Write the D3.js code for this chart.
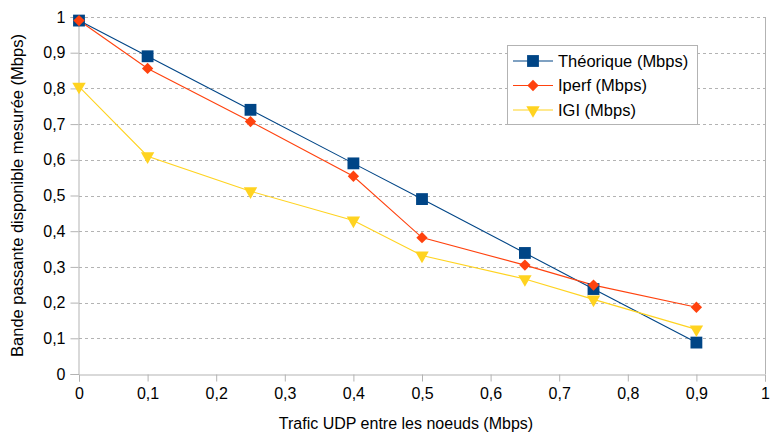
<!DOCTYPE html>
<html><head><meta charset="utf-8">
<script src="https://cdn.jsdelivr.net/npm/d3@7"></script>
<style>body{margin:0;background:#fff;} text{font-family:"Liberation Sans",Arial,sans-serif;}</style>
</head><body><svg id="c" width="770" height="432"></svg>
<script>
const xValues = [0, 0.1, 0.25, 0.4, 0.5, 0.65, 0.75, 0.9];
const theorique = [0.99, 0.89, 0.74, 0.59, 0.49, 0.339, 0.238, 0.088];
const iperf = [0.99, 0.856, 0.707, 0.554, 0.382, 0.305, 0.249, 0.187];
const igi = [0.805, 0.61, 0.512, 0.43, 0.332, 0.266, 0.209, 0.125];
const seriesNames = ["Théorique (Mbps)", "Iperf (Mbps)", "IGI (Mbps)"];
const tickValues = [0,0.1,0.2,0.3,0.4,0.5,0.6,0.7,0.8,0.9,1];
const xTitle = "Trafic UDP entre les noeuds (Mbps)";
const yTitle = "Bande passante disponible mesurée (Mbps)";

const colors = ["#004586", "#ff420e", "#ffd320"];
const data = [theorique, iperf, igi];
const markerFns = [
  () => d3.symbol().type(d3.symbolSquare).size(140)(),
  () => d3.symbol().type(d3.symbolSquare).size(64)(),
  () => d3.symbol().type(d3.symbolTriangle).size(78)()
];
const markerRot = [0, 45, 180];

const svg = d3.select("#c");
const L = 79, R = 765, T = 17, B = 374;
const x = d3.scaleLinear().domain([0,1]).range([L,R]);
const y = d3.scaleLinear().domain([0,1]).range([B,T]);
const fmt = d => String(+d.toFixed(1)).replace(".", ",");

// gridlines
svg.append("g").selectAll("line").data(tickValues.filter(d=>d>0)).join("line")
  .attr("x1", L).attr("x2", R).attr("y1", d=>Math.round(y(d))+0.5).attr("y2", d=>Math.round(y(d))+0.5)
  .attr("stroke", "#b3b3b3").attr("stroke-dasharray", "3,3").attr("stroke-width", 1);

// right border
svg.append("line").attr("x1", R+0.5).attr("x2", R+0.5).attr("y1", T).attr("y2", B)
  .attr("stroke", "#b3b3b3");

const xAxis = svg.append("g").attr("transform", `translate(0,${B+0.5})`)
  .call(d3.axisBottom(x).tickValues(tickValues).tickFormat(fmt).tickSize(7).tickPadding(6));
const yAxis = svg.append("g").attr("transform", `translate(${L-0.5},0)`)
  .call(d3.axisLeft(y).tickValues(tickValues).tickFormat(fmt).tickSize(8).tickPadding(5));
[xAxis, yAxis].forEach(a => {
  a.select(".domain").attr("stroke", "#b3b3b3");
  a.selectAll(".tick line").attr("stroke", "#b3b3b3");
  a.selectAll(".tick text").attr("font-size", 16).attr("fill", "#000")
   .style("font-family", "Liberation Sans, Arial, sans-serif");
});

// lines and markers
const line = d3.line().x((d,i)=>x(xValues[i])).y(d=>y(d));
data.forEach((s, k) => {
  svg.append("path").datum(s).attr("d", line).attr("fill", "none")
    .attr("stroke", colors[k]).attr("stroke-width", 1.1);
});
data.forEach((s, k) => {
  svg.append("g").selectAll("path").data(s).join("path")
    .attr("d", markerFns[k]())
    .attr("transform", (d,i) => `translate(${x(xValues[i])},${y(d)}) rotate(${markerRot[k]})`)
    .attr("fill", colors[k]);
});

// legend
const lg = svg.append("g").attr("transform", "translate(507,45)");
lg.append("rect").attr("x", 0.5).attr("y", 0.5).attr("width", 190).attr("height", 79)
  .attr("fill", "#fff").attr("stroke", "#b3b3b3");
seriesNames.forEach((n, k) => {
  const yy = 16 + k * 24.5;
  lg.append("line").attr("x1", 6).attr("x2", 46).attr("y1", yy).attr("y2", yy)
    .attr("stroke", colors[k]).attr("stroke-width", 1.1);
  lg.append("path").attr("d", markerFns[k]())
    .attr("transform", `translate(26,${yy}) rotate(${markerRot[k]})`)
    .attr("fill", colors[k]);
  lg.append("text").attr("x", 51).attr("y", yy).attr("dy", "0.35em")
    .attr("font-size", 16.5).text(n);
});

// titles
svg.append("text").attr("x", 406).attr("y", 429).attr("text-anchor", "middle")
  .attr("font-size", 16).text(xTitle);
svg.append("text").attr("transform", `translate(23,${(T+B)/2}) rotate(-90)`)
  .attr("text-anchor", "middle").attr("font-size", 16.5).text(yTitle);
</script></body></html>
